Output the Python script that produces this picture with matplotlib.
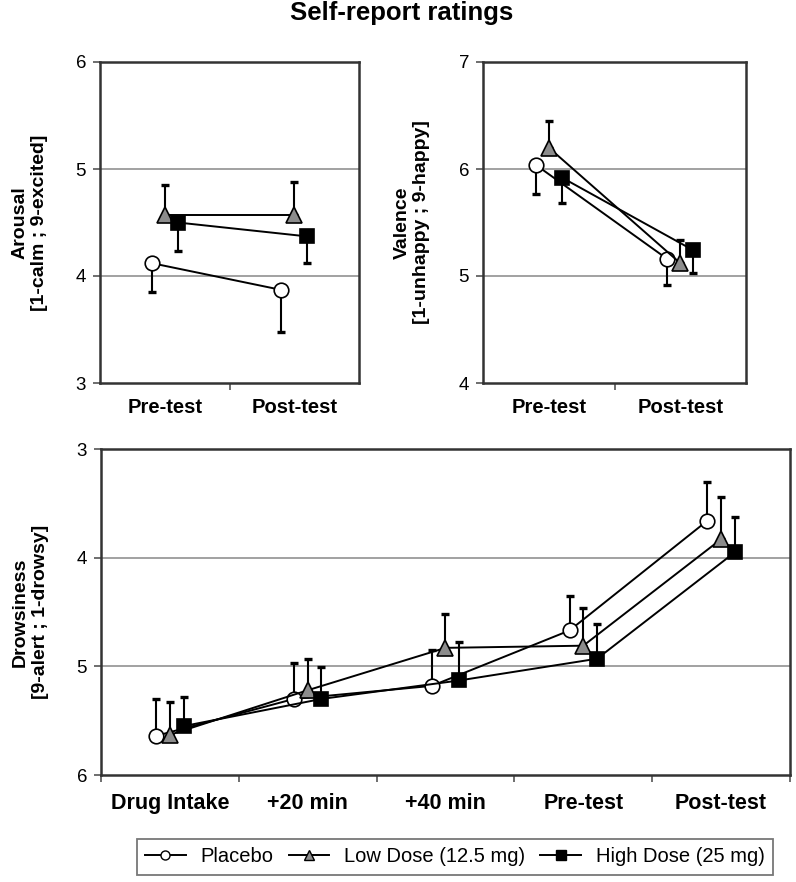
import matplotlib
matplotlib.use("Agg")
import matplotlib.pyplot as plt
from matplotlib.lines import Line2D

plt.rcParams['font.family'] = ['Liberation Sans', 'DejaVu Sans']

# ---------------- data ----------------
groups = ["Placebo", "Low Dose (12.5 mg)", "High Dose (25 mg)"]

top_categories = ["Pre-test", "Post-test"]
arousal_mean = {"Placebo": [4.12, 3.87], "Low Dose (12.5 mg)": [4.57, 4.57], "High Dose (25 mg)": [4.50, 4.37]}
arousal_se = {"Placebo": [0.27, 0.39], "Low Dose (12.5 mg)": [0.28, 0.31], "High Dose (25 mg)": [0.27, 0.25]}

valence_mean = {"Placebo": [6.04, 5.16], "Low Dose (12.5 mg)": [6.20, 5.12], "High Dose (25 mg)": [5.92, 5.24]}
valence_se = {"Placebo": [0.27, 0.24], "Low Dose (12.5 mg)": [0.25, 0.22], "High Dose (25 mg)": [0.24, 0.21]}

drowsy_categories = ["Drug Intake", "+20 min", "+40 min", "Pre-test", "Post-test"]
drowsy_mean = {"Placebo": [5.64, 5.30, 5.18, 4.67, 3.66],
               "Low Dose (12.5 mg)": [5.63, 5.22, 4.83, 4.81, 3.83],
               "High Dose (25 mg)": [5.55, 5.30, 5.13, 4.93, 3.95]}
drowsy_se = {"Placebo": [0.34, 0.33, 0.33, 0.32, 0.36],
             "Low Dose (12.5 mg)": [0.30, 0.29, 0.31, 0.35, 0.39],
             "High Dose (25 mg)": [0.27, 0.29, 0.35, 0.32, 0.32]}

# error bar direction (+1 drawn toward larger values, -1 toward smaller)
arousal_dir = {"Placebo": -1, "Low Dose (12.5 mg)": 1, "High Dose (25 mg)": -1}
valence_dir = {"Placebo": -1, "Low Dose (12.5 mg)": 1, "High Dose (25 mg)": -1}
drowsy_dir = {"Placebo": -1, "Low Dose (12.5 mg)": -1, "High Dose (25 mg)": -1}

# ---------------- styles ----------------
styles = {
    "Placebo": dict(marker="o", mfc="white", mec="black", ms=10.5),
    "Low Dose (12.5 mg)": dict(marker="^", mfc="#8c8c8c", mec="black", ms=11),
    "High Dose (25 mg)": dict(marker="s", mfc="black", mec="black", ms=10),
}
offsets = {"Placebo": -0.1, "Low Dose (12.5 mg)": 0.0, "High Dose (25 mg)": 0.1}

fig = plt.figure(figsize=(7.96, 8.82), dpi=100)

W, H = 796, 882
def ax_at(x0, y0, x1, y1):
    return fig.add_axes([x0 / W, 1 - y1 / H, (x1 - x0) / W, (y1 - y0) / H])

ax1 = ax_at(100, 62, 359, 383)
ax2 = ax_at(483, 62, 746, 383)
ax3 = ax_at(101, 449, 790, 775)

def draw(ax, cats, means, ses, dirs, yticks, ylim, ylabel, invert=False, boundary_ticks=False,
         catsize=15, catpad=11):
    n = len(cats)
    xc = [i + 0.5 for i in range(n)]
    for yv in yticks[1:-1]:
        ax.axhline(yv, color="#9a9a9a", lw=1.3, zorder=0)
    for g in groups:
        xs = [x + offsets[g] for x in xc]
        m = means[g]
        se = ses[g]
        if dirs[g] > 0:
            yerr = [[0] * n, se]
        else:
            yerr = [se, [0] * n]
        ax.errorbar(xs, m, yerr=yerr, fmt="none", ecolor="black", elinewidth=1.5,
                    capsize=3, capthick=2.4, zorder=2)
        ax.plot(xs, m, color="black", lw=1.4, zorder=3, **styles[g], markeredgewidth=1.2)
    ax.set_xlim(0, n)
    ax.set_ylim(*ylim)
    if invert:
        ax.invert_yaxis()
    ax.set_yticks(yticks)
    ax.set_yticklabels([str(t) for t in yticks], fontsize=13.5)
    ax.set_xticks(xc)
    ax.set_xticklabels(cats, fontsize=catsize, fontweight="bold")
    ax.tick_params(axis="x", which="major", length=0, pad=catpad)
    ax.set_xticks(list(range(1, n)) if not boundary_ticks else list(range(0, n + 1)), minor=True)
    ax.tick_params(axis="x", which="minor", length=5, width=1.2, color="#555555", direction="out")
    ax.tick_params(axis="y", length=5, width=1.2, color="#555555", direction="out", pad=5)
    for s in ax.spines.values():
        s.set_linewidth(1.8)
        s.set_color("#333333")
    ax.set_ylabel(ylabel, fontsize=14, fontweight="bold", linespacing=1.2)

draw(ax1, top_categories, arousal_mean, arousal_se, arousal_dir, [3, 4, 5, 6], (3, 6),
     "Arousal\n[1-calm ; 9-excited]", catsize=14.5)
draw(ax2, top_categories, valence_mean, valence_se, valence_dir, [4, 5, 6, 7], (4, 7),
     "Valence\n[1-unhappy ; 9-happy]", catsize=14.5)
draw(ax3, drowsy_categories, drowsy_mean, drowsy_se, drowsy_dir, [3, 4, 5, 6], (3, 6),
     "Drowsiness\n[9-alert ; 1-drowsy]", invert=True, boundary_ticks=True,
     catsize=15.5, catpad=13)

ax1.yaxis.set_label_coords(-0.2, 0.5)
ax2.yaxis.set_label_coords(-0.2, 0.5)
ax3.yaxis.set_label_coords(-0.076, 0.5)

fig.text(402 / W, 1 - 13 / H, "Self-report ratings", ha="center", va="center",
         fontsize=18.5, fontweight="bold")

handles = [Line2D([0], [0], color="black", lw=1.4, markeredgewidth=1.0,
                  **{**styles[g], "ms": 6.5}) for g in groups]
leg = fig.legend(handles, groups, loc="center", bbox_to_anchor=(455 / W, 1 - 857 / H),
                 ncol=3, fontsize=14.5, frameon=True, fancybox=False, handlelength=2.0,
                 handletextpad=0.75, columnspacing=0.75, borderpad=0.4)
leg.get_frame().set_edgecolor("#555555")
leg.get_frame().set_linewidth(1.3)

fig.savefig("out.png", dpi=100)
